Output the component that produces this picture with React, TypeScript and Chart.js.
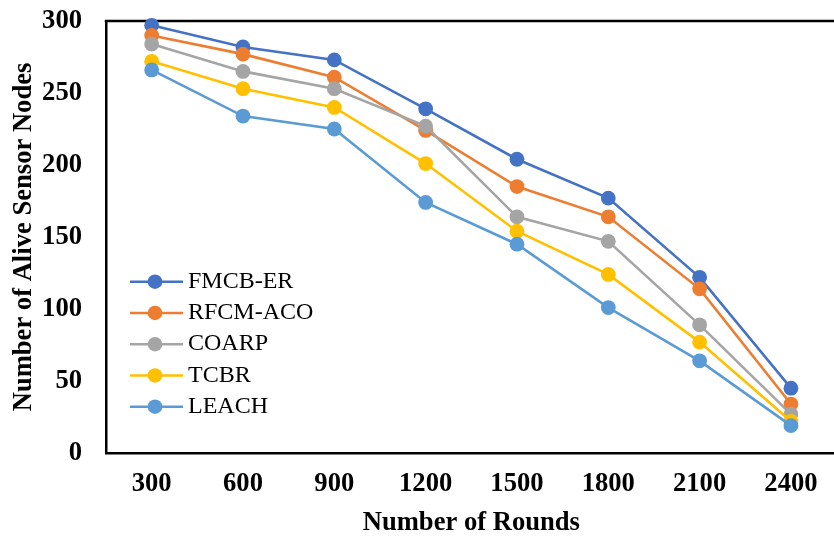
import React, { useEffect, useRef } from "react";
import { Chart, registerables } from "chart.js";

Chart.register(...registerables);

const rounds = ["300", "600", "900", "1200", "1500", "1800", "2100", "2400"];
const seriesNames = ["FMCB-ER", "RFCM-ACO", "COARP", "TCBR", "LEACH"];
const fmcbEr = [297, 282, 273, 239, 204, 177, 122, 45];
const rfcmAco = [290, 277, 261, 224, 185, 164, 114, 34];
const coarp = [284, 265, 253, 227, 164, 147, 89, 27];
const tcbr = [272, 253, 240, 201, 154, 124, 77, 22];
const leach = [266, 234, 225, 174, 145, 101, 64, 19];
const yTicks = [0, 50, 100, 150, 200, 250, 300];
const colors = ["#4472C4", "#ED7D31", "#A5A5A5", "#FFC000", "#5B9BD5"];

const SERIF = "'Liberation Serif', 'Times New Roman', serif";

const frameAndLegend = {
  id: "frameAndLegend",
  beforeDatasetsDraw(chart: any) {
    const { ctx, chartArea } = chart;
    ctx.save();
    ctx.strokeStyle = "#000";
    ctx.lineWidth = 2.5;
    ctx.beginPath();
    ctx.moveTo(chartArea.left - 1.25, chartArea.top);
    ctx.lineTo(chartArea.right, chartArea.top);
    ctx.stroke();
    ctx.restore();
  },
  afterDraw(chart: any) {
    const { ctx, chartArea } = chart;
    ctx.save();
    chart.data.datasets.forEach((ds: any, i: number) => {
      const y = chartArea.top + 260.7 + i * 31.25;
      const x0 = chartArea.left + 24;
      ctx.strokeStyle = ds.borderColor;
      ctx.lineWidth = 2.6;
      ctx.beginPath();
      ctx.moveTo(x0, y);
      ctx.lineTo(x0 + 53, y);
      ctx.stroke();
      ctx.fillStyle = ds.backgroundColor;
      ctx.beginPath();
      ctx.arc(x0 + 25, y, 7.3, 0, Math.PI * 2);
      ctx.fill();
      ctx.fillStyle = "#000";
      ctx.font = `24px ${SERIF}`;
      ctx.textBaseline = "middle";
      ctx.textAlign = "left";
      ctx.fillText(ds.label, x0 + 58, y);
    });
    ctx.restore();
  },
};

export default function App() {
  const canvasRef = useRef<HTMLCanvasElement | null>(null);

  useEffect(() => {
    if (!canvasRef.current) return;
    const values = [fmcbEr, rfcmAco, coarp, tcbr, leach];
    const chart = new Chart(canvasRef.current, {
      type: "line",
      data: {
        labels: rounds,
        datasets: seriesNames.map((name, i) => ({
          label: name,
          data: values[i],
          borderColor: colors[i],
          backgroundColor: colors[i],
          pointBackgroundColor: colors[i],
          pointBorderColor: colors[i],
          borderWidth: 2.6,
          pointRadius: 7.4,
          pointBorderWidth: 0,
          tension: 0,
          clip: false,
          order: seriesNames.length - i,
        })),
      },
      options: {
        animation: false,
        responsive: false,
        layout: { padding: { left: 0, top: 21, right: 0, bottom: 0 } },
        plugins: {
          legend: { display: false },
          tooltip: { enabled: false },
        },
        scales: {
          x: {
            type: "category",
            offset: true,
            grid: { display: false, drawTicks: false },
            border: { display: true, color: "#000", width: 2.5 },
            ticks: {
              color: "#000",
              font: { family: SERIF, size: 26.6, weight: "bold" },
              padding: 15.5,
              maxRotation: 0,
              autoSkip: false,
            },
            title: {
              display: true,
              text: "Number of Rounds",
              color: "#000",
              font: { family: SERIF, size: 26.6, weight: "bold", lineHeight: 1 },
              padding: { top: 0, bottom: 0 },
            },
            afterFit: (scale: any) => {
              scale.height = 83;
              scale.paddingLeft = 0;
              scale.paddingRight = 0;
            },
          },
          y: {
            min: 0,
            max: 300,
            grid: { display: false, drawTicks: false },
            border: { display: true, color: "#000", width: 2.5 },
            ticks: {
              color: "#000",
              font: { family: SERIF, size: 26.6, weight: "bold" },
              padding: 24,
            },
            afterBuildTicks: (scale: any) => {
              scale.ticks = yTicks.map((v) => ({ value: v }));
            },
            title: {
              display: true,
              text: "Number of Alive Sensor Nodes",
              color: "#000",
              font: { family: SERIF, size: 26.6, weight: "bold", lineHeight: 1 },
              padding: { top: 11, bottom: 0 },
            },
            afterFit: (scale: any) => {
              scale.width = 106;
              scale.paddingTop = 0;
              scale.paddingBottom = 0;
            },
          },
        },
      },
      plugins: [frameAndLegend],
    } as any);
    return () => chart.destroy();
  }, []);

  return (
    <div
      style={{
        position: "absolute",
        left: 0,
        top: 0,
        width: 834,
        height: 536,
        overflow: "hidden",
        background: "#fff",
      }}
    >
      <canvas ref={canvasRef} width={844} height={536} style={{ display: "block" }} />
    </div>
  );
}
